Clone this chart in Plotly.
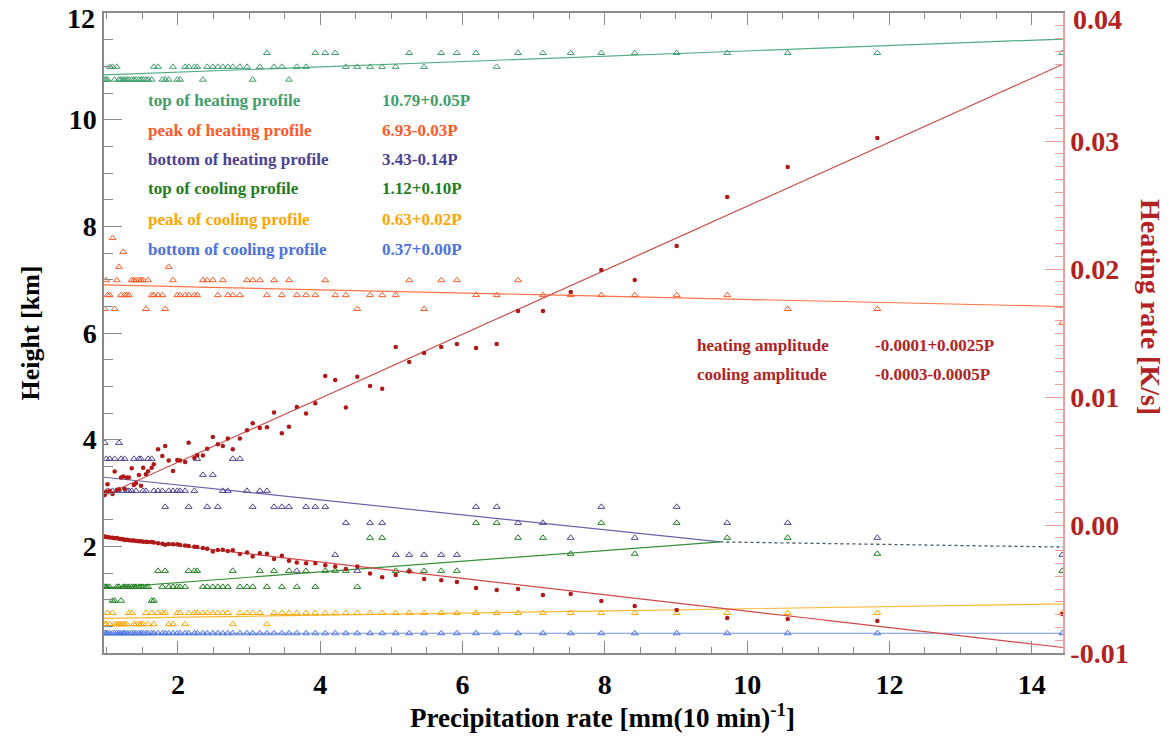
import numpy as np
import plotly.graph_objects as go

# ---------------- data ----------------
P = [0.97, 0.99, 1.01, 1.04, 1.08, 1.11, 1.14, 1.17, 1.20, 1.23, 1.25, 1.28, 1.31, 1.35, 1.38, 1.41, 1.45, 1.48, 1.51, 1.55, 1.58,
     1.63, 1.66, 1.72, 1.78, 1.82, 1.87, 1.93, 1.99, 2.03, 2.10, 2.15, 2.23, 2.27, 2.35, 2.41, 2.49, 2.56, 2.63, 2.70, 2.77,
     2.87, 2.97, 3.05, 3.15, 3.25, 3.35, 3.46, 3.56, 3.67, 3.80, 3.93, 4.07, 4.21, 4.36, 4.52, 4.70, 4.87, 5.06, 5.25, 5.46,
     5.70, 5.92, 6.19, 6.48, 6.78, 7.13, 7.52, 7.95, 8.42, 9.01, 9.72, 10.57, 11.83, 14.43]

top_heating = [10.75, 10.75, 10.75, 10.99, 10.99, 10.75, 10.99, 10.75, 10.75, 10.75, 10.75, 10.75, 10.75, 10.75, 10.75, 10.75, 10.75, 10.75, 10.75, 10.75, 10.75,
               10.75, 10.99, 10.99, 10.75, 10.75, 10.75, 10.99, 10.75, 10.75, 10.99, 10.99, 10.99, 10.99, 10.75, 10.99,
               10.99, 10.99, 10.99, 10.99, 10.99, 10.99, 10.99, 10.75, 10.99, 11.25, 10.99, 10.99, 10.75, 10.99, 10.99,
               11.25, 11.25, 11.25, 10.99, 10.99, 10.99, 10.99, 10.99, 11.25, 10.99, 11.25, 11.25, 11.25, 10.99, 11.25,
               11.25, 11.25, 11.25, 11.25, 11.25, 11.25, 11.25, 11.25, 11.25]
peak_heating = [6.45, 6.99, 6.71, 6.71, 7.78, 6.45, 6.99, 7.24, 6.71, 7.52, 6.71, 6.71, 6.71, 6.99, 6.99, 6.99, 6.99, 6.99, 6.99, 6.45, 6.99,
                6.71, 6.71, 6.71, 6.71, 6.45, 7.24, 6.99, 6.71, 6.71, 6.71, 6.71, 6.71, 6.71, 6.99, 6.99,
                6.99, 6.71, 6.99, 6.71, 6.71, 6.71, 6.99, 6.99, 6.99, 6.71, 6.99, 6.71, 6.99, 6.71, 6.71,
                6.71, 6.99, 6.71, 6.71, 6.45, 6.71, 6.71, 6.71, 6.99, 6.45, 6.99, 6.99, 6.71, 6.71, 6.99,
                6.71, 6.71, 6.71, 6.71, 6.71, 6.71, 6.45, 6.45, 6.19]
bottom_heating = [3.94, 3.64, 3.04, 3.64, 3.04, 3.64, 3.04, 3.94, 3.64, 3.04, 3.64, 3.04, 3.04, 3.04, 3.64, 3.04, 3.64, 3.64, 3.04, 3.04, 3.64,
                  3.64, 3.04, 3.04, 3.04, 2.74, 3.04, 3.04, 3.04, 3.04, 3.04, 2.74, 3.04, 3.64, 3.34, 2.74,
                  3.34, 2.74, 3.04, 3.04, 3.64, 3.64, 3.04, 2.74, 3.04, 3.04, 2.74, 2.74, 2.74, 1.54, 2.74,
                  2.74, 2.74, 1.84, 2.44, 1.54, 2.44, 2.44, 1.84, 1.84, 1.84, 1.84, 1.84, 2.74, 2.74, 2.44,
                  2.44, 2.16, 2.74, 2.16, 2.74, 2.44, 2.44, 2.16, 1.84]
top_cooling = [1.24, 1.24, 1.24, 1.24, 0.98, 0.98, 1.24, 1.24, 0.98, 1.24, 1.24, 1.24, 1.24, 1.24, 1.24, 1.24, 1.24, 1.24, 1.24, 1.24, 1.24,
               0.98, 0.98, 1.54, 1.24, 1.54, 1.24, 1.24, 1.24, 1.24, 1.24, 1.54, 1.54, 1.54, 1.24, 1.24,
               1.24, 1.24, 1.24, 1.24, 1.54, 1.24, 1.24, 1.24, 1.54, 1.24, 1.54, 1.24, 1.54, 1.24, 1.54,
               1.24, 1.54, 1.54, 1.54, 1.24, 2.16, 2.16, 1.54, 1.54, 1.54, 1.54, 1.54, 2.44, 2.44, 2.16,
               2.16, 1.86, 2.44, 1.86, 2.44, 2.16, 2.16, 1.86, 1.54]
peak_cooling = [0.54, 0.54, 0.75, 0.54, 0.75, 0.54, 0.54, 0.54, 0.54, 0.54, 0.54, 0.54, 0.75, 0.75, 0.54, 0.54, 0.54, 0.54, 0.54, 0.75, 0.54,
                0.75, 0.54, 0.75, 0.75, 0.75, 0.54, 0.54, 0.75, 0.75, 0.54, 0.75, 0.75, 0.75, 0.75, 0.75,
                0.75, 0.75, 0.75, 0.75, 0.54, 0.75, 0.75, 0.75, 0.75, 0.54, 0.75, 0.75, 0.75, 0.75, 0.75,
                0.75, 0.75, 0.75, 0.75, 0.75, 0.75, 0.75, 0.75, 0.75, 0.75, 0.75, 0.75, 0.75, 0.75, 0.75,
                0.75, 0.75, 0.75, 0.75, 0.75, 0.75, 0.75, 0.75, 0.75]
bottom_cooling = [0.37] * 75

heating_amp = [0.00234, 0.00260, 0.00318, 0.00268, 0.00242, 0.00417, 0.00273, 0.00279, 0.00372, 0.00378, 0.00281, 0.00372, 0.00372, 0.00443, 0.00313, 0.00326, 0.00391, 0.00307, 0.00448, 0.00396, 0.00420,
               0.00448, 0.00474, 0.00591, 0.00539, 0.00617, 0.00503, 0.00422, 0.00508, 0.00503, 0.00492,
               0.00643, 0.00524, 0.00544, 0.00542, 0.00596, 0.00688, 0.00630, 0.00617, 0.00675, 0.00591,
               0.00675, 0.00740, 0.00794, 0.00758, 0.00763, 0.00878, 0.00716, 0.00768, 0.00922, 0.00872,
               0.00951, 0.01164, 0.01133, 0.00917, 0.01159, 0.01086, 0.01065, 0.01391, 0.01273, 0.01344,
               0.01391, 0.01414, 0.01383, 0.01414, 0.01672, 0.01672, 0.01820, 0.01992, 0.01914, 0.02180,
               0.02563, 0.02797, 0.03023, None]
cooling_amp = [-0.00090, -0.00094, -0.00093, -0.00097, -0.00099, -0.00104, -0.00102, -0.00108, -0.00110, -0.00112, -0.00117, -0.00115, -0.00120, -0.00122, -0.00121, -0.00125, -0.00127, -0.00126, -0.00130, -0.00131, -0.00133,
               -0.00133, -0.00136, -0.00143, -0.00146, -0.00154, -0.00148, -0.00151, -0.00151, -0.00156, -0.00161,
               -0.00164, -0.00169, -0.00172, -0.00180, -0.00185, -0.00208, -0.00195, -0.00193, -0.00203, -0.00198,
               -0.00227, -0.00214, -0.00247, -0.00221, -0.00224, -0.00266, -0.00240, -0.00279, -0.00292, -0.00299,
               -0.00299, -0.00315, -0.00325, -0.00344, -0.00325, -0.00378, -0.00409, -0.00391, -0.00364, -0.00422,
               -0.00432, -0.00445, -0.00492, -0.00508, -0.00500, -0.00547, -0.00539, -0.00594, -0.00633, -0.00664,
               -0.00727, -0.00734, -0.00750, -0.00695]

profile_names = ["top of heating profile", "peak of heating profile", "bottom of heating profile",
                 "top of cooling profile", "peak of cooling profile", "bottom of cooling profile"]
profile_fits = ["10.79+0.05P", "6.93-0.03P", "3.43-0.14P", "1.12+0.10P", "0.63+0.02P", "0.37+0.00P"]
fit_intercept = [10.79, 6.93, 3.43, 1.12, 0.63, 0.37]
fit_slope = [0.05, -0.03, -0.14, 0.10, 0.02, 0.00]

amp_names = ["heating amplitude", "cooling amplitude"]
amp_fits = ["-0.0001+0.0025P", "-0.0003-0.0005P"]
amp_intercept = [-0.0001, -0.00033]
amp_slope = [0.0025, -0.00064]

x_ticks = [2, 4, 6, 8, 10, 12, 14]
y_ticks = [2, 4, 6, 8, 10, 12]
y_ticklabels = ["2", "4", "6", "8", "10", "12"]
y2_ticks = [-0.01, 0.00, 0.01, 0.02, 0.03, 0.04]
y2_ticklabels = ["-0.01", "0.00", "0.01", "0.02", "0.03", "0.04"]

# ---------------- styles ----------------
XR = [0.96, 14.44]
colors = ["#3f9e6c", "#ff5a28", "#4b4296", "#1f7d1f", "#ffa500", "#4a72e0"]
line_colors = ["#52ad80", "#ff7448", "#6a62aa", "#3a8f3a", "#ffb733", "#7592ea"]
RED = "#b22222"
RED_LINE = "#d24848"
FONT = "Liberation Serif"
TICKSIZE = 28

profiles = [top_heating, peak_heating, bottom_heating, top_cooling, peak_cooling, bottom_cooling]

fig = go.Figure()

xs = np.linspace(XR[0], XR[1], 200)
# crossing of bottom-of-heating and top-of-cooling fits
pc = (fit_intercept[2] - fit_intercept[3]) / (fit_slope[3] - fit_slope[2])
for i in range(6):
    if i in (2, 3):
        xx = np.linspace(XR[0], pc, 100)
    else:
        xx = xs
    fig.add_trace(go.Scatter(x=xx, y=fit_intercept[i] + fit_slope[i] * xx, mode="lines",
                             line=dict(color=line_colors[i], width=1.2), yaxis="y", hoverinfo="skip"))
# dotted mean of the two crossing fits beyond the crossing
xd = np.linspace(pc, XR[1], 60)
yd = 0.5 * (fit_intercept[2] + fit_intercept[3]) + 0.5 * (fit_slope[2] + fit_slope[3]) * xd
fig.add_trace(go.Scatter(x=xd, y=yd, mode="lines", line=dict(color="#3f5a6e", width=1.3, dash="dot"),
                         yaxis="y", hoverinfo="skip"))

for i in range(6):
    fig.add_trace(go.Scatter(x=P, y=profiles[i], mode="markers", yaxis="y",
                             marker=dict(symbol="triangle-up-open", size=6, color=colors[i],
                                         line=dict(width=1, color=colors[i]))))

for j, amp in enumerate([heating_amp, cooling_amp]):
    fig.add_trace(go.Scatter(x=xs, y=amp_intercept[j] + amp_slope[j] * xs, mode="lines", yaxis="y2",
                             line=dict(color=RED_LINE, width=1.2), hoverinfo="skip"))
    fig.add_trace(go.Scatter(x=P, y=amp, mode="markers", yaxis="y2",
                             marker=dict(symbol="circle", size=4.5, color="#b01818")))

# annotations
L, R, T, B = 104, 107, 13, 83
W, H = 1170, 736
pw, ph = W - L - R, H - T - B
def px2paper(x, y):
    return (x - L) / pw, (H - B - y) / ph

rows_y = [100, 130, 159, 188, 219, 249]
for i in range(6):
    xa, ya = px2paper(146, rows_y[i])
    fig.add_annotation(x=xa, y=ya, xref="paper", yref="paper", text=profile_names[i], showarrow=False,
                       xanchor="left", yanchor="middle",
                       font=dict(family=FONT, size=17, color=colors[i], weight="bold"))
    xb, _ = px2paper(380, rows_y[i])
    fig.add_annotation(x=xb, y=ya, xref="paper", yref="paper", text=profile_fits[i], showarrow=False,
                       xanchor="left", yanchor="middle",
                       font=dict(family=FONT, size=17, color=colors[i], weight="bold"))
for j, yy in enumerate([345, 374]):
    xa, ya = px2paper(695, yy)
    fig.add_annotation(x=xa, y=ya, xref="paper", yref="paper", text=amp_names[j], showarrow=False,
                       xanchor="left", yanchor="middle",
                       font=dict(family=FONT, size=17, color=RED, weight="bold"))
    xb, _ = px2paper(873, yy)
    fig.add_annotation(x=xb, y=ya, xref="paper", yref="paper", text=amp_fits[j], showarrow=False,
                       xanchor="left", yanchor="middle",
                       font=dict(family=FONT, size=17, color=RED, weight="bold"))

# top tick labels (drawn slightly below the top edge, as in the original)
xa, ya = px2paper(97, 18)
fig.add_annotation(x=xa, y=ya, xref="paper", yref="paper", text=y_ticklabels[-1], showarrow=False,
                   xanchor="right", yanchor="middle",
                   font=dict(family=FONT, size=TICKSIZE, color="black", weight="bold"))
xa, ya = px2paper(1071, 19)
fig.add_annotation(x=xa, y=ya, xref="paper", yref="paper", text=y2_ticklabels[-1], showarrow=False,
                   xanchor="left", yanchor="middle",
                   font=dict(family=FONT, size=TICKSIZE, color=RED, weight="bold"))

# right axis title (reads top to bottom)
xa, ya = px2paper(1151, 307)
fig.add_annotation(x=xa, y=ya, xref="paper", yref="paper", text="Heating rate [K/s]", showarrow=False,
                   textangle=90, xanchor="center", yanchor="middle",
                   font=dict(family=FONT, size=28, color=RED, weight="bold"))
# x axis title
xa, ya = px2paper(602, 716)
fig.add_annotation(x=xa, y=ya, xref="paper", yref="paper",
                   text="Precipitation rate [mm(10 min)<sup>-1</sup>]", showarrow=False,
                   xanchor="center", yanchor="middle",
                   font=dict(family=FONT, size=27, color="black", weight="bold"))

GRAY = "#8a8a8a"
PINK = "#eaa0a0"
fig.update_layout(
    width=W, height=H, margin=dict(l=L, r=R, t=T, b=B, autoexpand=False),
    plot_bgcolor="white", paper_bgcolor="white", showlegend=False,
    font=dict(family=FONT, color="black"),
    xaxis=dict(range=XR, tickvals=x_ticks, ticks="inside", ticklen=12, tickwidth=1.3, tickcolor=GRAY,
               showline=True, linecolor=GRAY, linewidth=1.5, mirror="ticks", showgrid=False, zeroline=False,
               minor=dict(tick0=0, dtick=0.5, ticks="inside", ticklen=6, tickcolor=GRAY, tickwidth=1.2, showgrid=False),
               ticklabelstandoff=6, automargin=False,
               tickfont=dict(family=FONT, size=TICKSIZE, color="black", weight="bold")),
    yaxis=dict(range=[0, 12], tickvals=y_ticks, ticktext=y_ticklabels[:-1] + [""],
               ticks="inside", ticklen=18, tickwidth=1.3, tickcolor=GRAY,
               showline=True, linecolor=GRAY, linewidth=1.5, showgrid=False, zeroline=False,
               minor=dict(tick0=0, dtick=0.5, ticks="inside", ticklen=9, tickcolor=GRAY, tickwidth=1.2, showgrid=False),
               automargin=False,
               tickfont=dict(family=FONT, size=TICKSIZE, color="black", weight="bold"),
               title=dict(text="Height [km]", standoff=22,
                          font=dict(family=FONT, size=26, color="black", weight="bold"))),
    yaxis2=dict(range=[-0.01, 0.04], overlaying="y", side="right", tickvals=y2_ticks,
                ticktext=y2_ticklabels[:-1] + [""],
                ticks="inside", ticklen=18, tickwidth=1.3, tickcolor=PINK,
                showline=True, linecolor=PINK, linewidth=1.5, showgrid=False, zeroline=False,
                minor=dict(tick0=0, dtick=0.001, ticks="inside", ticklen=8, tickcolor=PINK, tickwidth=1.2, showgrid=False),
                automargin=False,
                tickfont=dict(family=FONT, size=TICKSIZE, color=RED, weight="bold")),
)

fig.write_html("out.html")
